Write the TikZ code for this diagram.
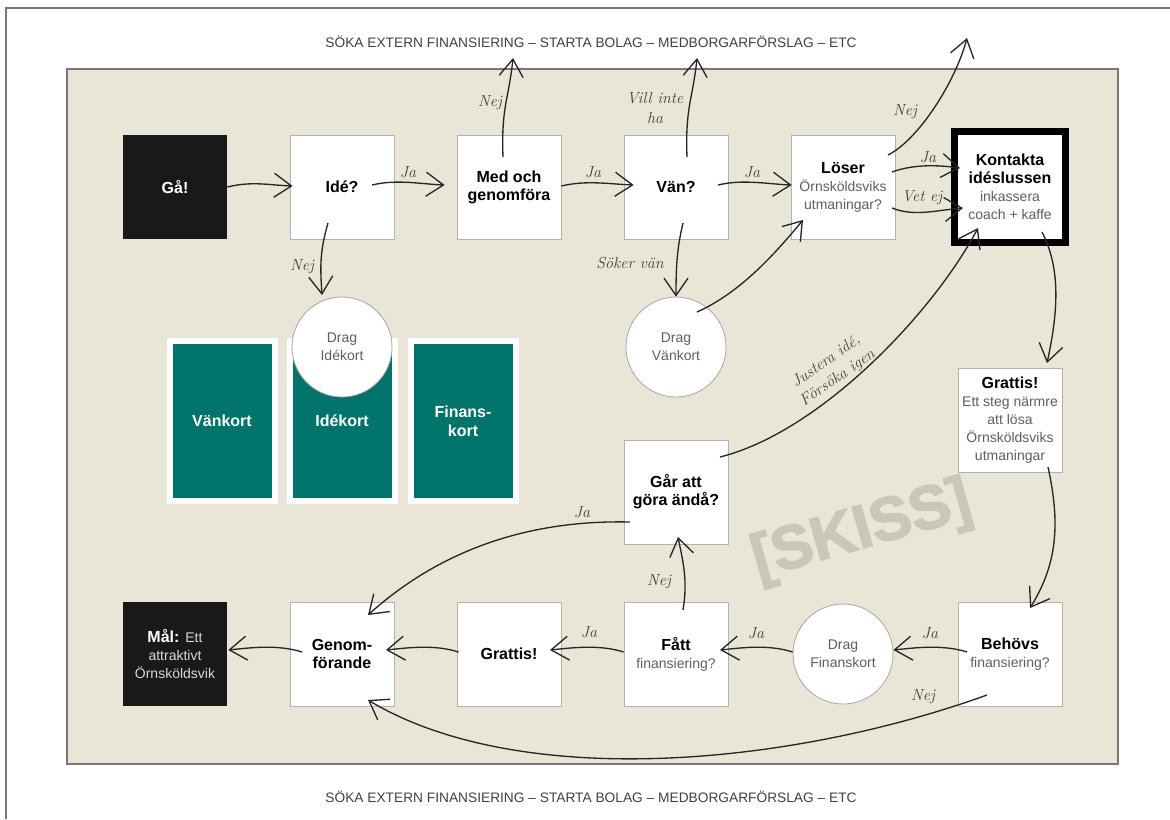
\documentclass[tikz,border=0pt]{standalone}
\usepackage{fontspec}
\setsansfont{Liberation Sans}
\usepackage{tikz}
\usetikzlibrary{positioning, arrows.meta}

\definecolor{panel}{RGB}{234,230,215}
\definecolor{cardgreen}{RGB}{0,115,107}
\definecolor{framegray}{RGB}{120,120,120}
\definecolor{textgray}{RGB}{95,95,95}
\definecolor{skissgray}{RGB}{201,198,186}
\newcommand{\gtxt}[1]{{\mdseries\color{textgray}\fontsize{10.5}{13.5}\selectfont #1}}

\begin{document}
\begin{tikzpicture}[x=0.75pt, y=-0.75pt, node distance=125.25pt,
    main/.style = {draw=black!30, fill=white, line width=0.6pt, minimum size=78pt, inner sep=2pt, align=center, font=\sffamily\bfseries\fontsize{12}{13.5}\selectfont},
    dark/.style = {fill=black!90, minimum size=78pt, inner sep=2pt, align=center, text=white, font=\sffamily\bfseries\fontsize{12}{13.5}\selectfont},
    drag/.style = {circle, draw=black!35, fill=white, line width=0.6pt, minimum size=75pt, inner sep=1pt, align=center, text=textgray, font=\sffamily\fontsize{10.5}{13.5}\selectfont},
    card/.style = {fill=cardgreen, draw=white, line width=4.5pt, minimum width=78.75pt, minimum height=120pt, align=center, text=white, font=\sffamily\bfseries\fontsize{12}{14}\selectfont},
    hand/.style = {inner sep=1pt, text=black!75, align=center, font=\rmfamily\itshape\fontsize{12}{15}\selectfont},
    caption/.style = {text=black!75, font=\sffamily\fontsize{10.3}{12}\selectfont},
    flow/.style = {line width=1pt, black!85, -{Straight Barb[length=13pt, width=18pt]}}]

    \useasboundingbox (0,0) rectangle (1170,819);
    \draw[framegray, line width=1.5pt] (6,819) -- (6,8) -- (1170,8);
    \draw[fill=panel, draw=framegray, line width=1.5pt] (67,69) rectangle (1118,764);

    \node[caption] (soka) at (591,42) {SÖKA EXTERN FINANSIERING – STARTA BOLAG – MEDBORGARFÖRSLAG – ETC};
    \node[caption] (sokab) at (591,797) {SÖKA EXTERN FINANSIERING – STARTA BOLAG – MEDBORGARFÖRSLAG – ETC};
    \node[rotate=16, text=skissgray, font=\sffamily\bfseries\fontsize{46}{46}\selectfont\addfontfeatures{FakeBold=2.5}] (skiss) at (862,532) {[SKISS]};

    % top row
    \node[dark] (ga) at (175,187) {Gå!};
    \node[main] (ide) [right of=ga] {Idé?};
    \node[main] (med) [right of=ide] {Med och\\genomföra};
    \node[main] (van) [right of=med] {Vän?};
    \node[main] (loser) [right of=van] {Löser\\\gtxt{Örnsköldsviks}\\\gtxt{utmaningar?}};
    \node[main, draw=black, line width=5.25pt, minimum size=83.25pt] (kontakta) [right of=loser] {Kontakta\\idéslussen\\\gtxt{inkassera}\\\gtxt{coach + kaffe}};

    % bottom row
    \node[dark] (mal) at (175,654) {Mål: {\mdseries\color{black!15}\fontsize{10.5}{13.5}\selectfont Ett}\\{\mdseries\color{black!15}\fontsize{10.5}{13.5}\selectfont attraktivt}\\{\mdseries\color{black!15}\fontsize{10.5}{13.5}\selectfont Örnsköldsvik}};
    \node[main] (genom) [right of=mal] {Genom-\\förande};
    \node[main] (grattisb) [right of=genom] {Grattis!};
    \node[main] (fatt) [right of=grattisb] {Fått\\\gtxt{finansiering?}};
    \node[drag] (dragfin) [right of=fatt] {Drag\\Finanskort};
    \node[main] (behovs) [right of=dragfin] {Behövs\\\gtxt{finansiering?}};

    % middle
    \node[main] (grattisr) at (1010,420) {Grattis!\\\gtxt{Ett steg närmre}\\\gtxt{att lösa}\\\gtxt{Örnsköldsviks}\\\gtxt{utmaningar}};
    \node[main] (gar) at (676,492) {Går att\\göra ändå?};
    \node[drag] (dragvan) [below of=van, node distance=120pt] {Drag\\Vänkort};
    \node[card] (vankort) at (222,421) {Vänkort};
    \node[card] (idekort) at (342,421) {Idékort};
    \node[card] (finanskort) at (463,421) {Finans-\\kort};
    \node[drag] (dragide) [below of=ide, node distance=120pt] {Drag\\Idékort};

    \coordinate (up1) at (513,58);
    \coordinate (up2) at (697,58);
    \coordinate (up3) at (967,38);

    \draw[flow] (ga.east) .. controls +(25,-6) and +(-25,-1) .. ([shift={(3,-1)}]ide.west);
    \draw[flow] ([shift={(30,-2)}]ide.center) .. controls +(25,-6) and +(-25,-1) .. ([shift={(-12,-2)}]med.west);
    \draw[flow] ([shift={(0,-1)}]med.east) .. controls +(25,-6) and +(-25,-1) .. ([shift={(10,-2)}]van.west);
    \draw[flow] ([shift={(42,-2)}]van.center) .. controls +(25,-6) and +(-25,-1) .. ([shift={(1,-2)}]loser.west);
    \draw[flow] ([shift={(-6,-30)}]med.center) .. controls +(-2,-50) and +(-4,40) .. (up1);
    \draw[flow] ([shift={(11,-30)}]van.center) .. controls +(-2,-50) and +(-4,40) .. (up2);
    \draw[flow] ([shift={(45,-32)}]loser.center) .. controls +(30,-15) and +(-12,45) .. (up3);
    \draw[flow] ([shift={(49,-15)}]loser.center) .. controls +(22,-8) and +(-22,-3) .. ([shift={(-50,-19)}]kontakta.center);
    \draw[flow] ([shift={(49,21)}]loser.center) .. controls +(22,9) and +(-25,2) .. ([shift={(-47,21)}]kontakta.center);
    \draw[flow] ([shift={(7,36)}]van.center) .. controls +(-6,25) and +(0,-30) .. (dragvan.north);
    \draw[flow] ([shift={(21,-35)}]dragvan.center) .. controls +(45,-20) and +(-25,30) .. ([shift={(-40,33)}]loser.center);
    \draw[flow] ([shift={(-14,36)}]ide.center) .. controls +(-8,28) and +(-2,-30) .. ([shift={(-20,-52)}]dragide.center);
    \draw[flow] ([shift={(32,45)}]kontakta.center) .. controls +(18,35) and +(12,-55) .. ([shift={(37,-57)}]grattisr.center);
    \draw[flow] ([shift={(38,47)}]grattisr.center) .. controls +(12,55) and +(28,-45) .. ([shift={(20,-46)}]behovs.center);
    \draw[flow] ([shift={(-43,-2)}]behovs.center) .. controls +(-25,-8) and +(20,-2) .. ([shift={(0,-4)}]dragfin.east);
    \draw[flow] ([shift={(0,-2)}]dragfin.west) .. controls +(-25,-8) and +(20,-2) .. ([shift={(44,-4)}]fatt.center);
    \draw[flow] ([shift={(0,-2)}]fatt.west) .. controls +(-25,-8) and +(20,-2) .. ([shift={(41,-4)}]grattisb.center);
    \draw[flow] ([shift={(2,-2)}]grattisb.west) .. controls +(-25,-8) and +(20,-2) .. ([shift={(44,-4)}]genom.center);
    \draw[flow] ([shift={(-40,-2)}]genom.center) .. controls +(-25,-8) and +(20,-2) .. ([shift={(1,-4)}]mal.east);
    \draw[flow] ([shift={(7,-44)}]fatt.center) .. controls +(5,-30) and +(5,25) .. ([shift={(2,45)}]gar.center);
    \draw[flow] ([shift={(-46,30)}]gar.center) .. controls +(-130,-3) and +(50,-45) .. ([shift={(26,-39)}]genom.center);
    \draw[flow] ([shift={(44,-35)}]gar.center) .. controls +(100,-25) and +(-45,85) .. ([shift={(-32,41)}]kontakta.center);
    \draw[flow] ([shift={(-23,41)}]behovs.center) .. controls +(-200,72) and +(150,90) .. ([shift={(26,46)}]genom.center);

    % labels
    \node[hand] (ja1) at (408,172) {Ja};
    \node[hand] (ja2) at (593,172) {Ja};
    \node[hand] (ja3) at (752,172) {Ja};
    \node[hand] (nej1) at (490,103) {Nej};
    \node[hand] (villinte) at (655,108) {Vill inte\\ha};
    \node[hand] (nej2) at (905,112) {Nej};
    \node[hand] (ja4) at (928,157) {Ja};
    \node[hand] (vetej) at (922,198) {Vet ej};
    \node[hand] (soker) at (630,263) {Söker vän};
    \node[hand] (nej3) at (302,267) {Nej};
    \node[hand, rotate=35] (justera) at (832,370) {Justera idé,\\Försöka igen};
    \node[hand] (ja5) at (582,512) {Ja};
    \node[hand] (nej4) at (659,582) {Nej};
    \node[hand] (ja6) at (930,633) {Ja};
    \node[hand] (ja7) at (756,633) {Ja};
    \node[hand] (ja8) at (589,632) {Ja};
    \node[hand] (nej5) at (923,697) {Nej};
\end{tikzpicture}
\end{document}
